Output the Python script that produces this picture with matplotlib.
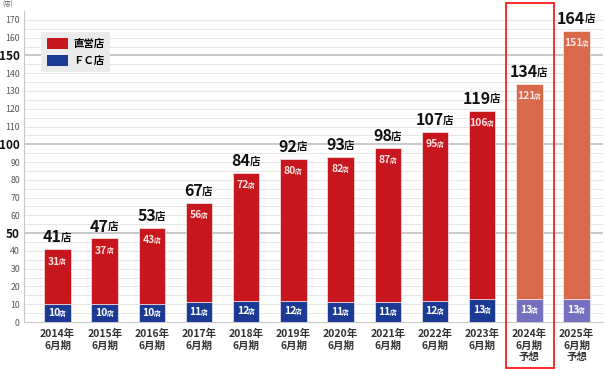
import matplotlib.pyplot as plt
from matplotlib.patches import Rectangle, Patch

plt.rcParams['font.family'] = ['Noto Sans CJK JP', 'DejaVu Sans']

years = ["2014", "2015", "2016", "2017", "2018", "2019",
         "2020", "2021", "2022", "2023", "2024", "2025"]
direct = [31, 37, 43, 56, 72, 80, 82, 87, 95, 106, 121, 151]
fc = [10, 10, 10, 11, 12, 12, 11, 11, 12, 13, 13, 13]
forecast = [False] * 10 + [True, True]

RED = "#C8161E"
NAVY = "#1B3A93"
ORANGE = "#D8694A"
LILAC = "#7670C0"

fig = plt.figure(figsize=(6.05, 3.69), dpi=100)
ax = fig.add_axes([24 / 605, 1 - 322 / 369, 579 / 605, 311 / 369])

x = list(range(len(years)))
width = 0.56
fc_colors = [LILAC if f else NAVY for f in forecast]
dir_colors = [ORANGE if f else RED for f in forecast]
ax.bar(x, fc, width, color=fc_colors, edgecolor="white", linewidth=0.4, zorder=3)
ax.bar(x, direct, width, bottom=fc, color=dir_colors, edgecolor="white",
       linewidth=0.4, zorder=3)

ax.set_xlim(-0.71, 11.56)
ax.set_ylim(0, 175)

# grid every 5, darker at 50/100/150
for v in range(5, 175, 5):
    if v in (50, 100, 150):
        ax.axhline(v, color="#C4C4C4", lw=1.3, zorder=1)
    else:
        ax.axhline(v, color="#E6E6E6", lw=0.7, zorder=1)

for s in ["top", "right"]:
    ax.spines[s].set_visible(False)
ax.spines["left"].set_color("#C8C8C8")
ax.spines["bottom"].set_color("#C8C8C8")
ax.tick_params(length=0)

ticks = list(range(0, 171, 10))
ax.set_yticks(ticks)
ax.set_yticklabels([str(t) for t in ticks])
for lab, t in zip(ax.get_yticklabels(), ticks):
    if t in (50, 100, 150):
        lab.set_fontsize(8.5)
        lab.set_fontweight("bold")
        lab.set_color("#111111")
    else:
        lab.set_fontsize(6.3)
        lab.set_color("#555555")
ax.tick_params(axis="y", pad=3)

ax.set_xticks(x)
xlabels = [f"{y}年\n6月期" + ("\n予想" if f else "") for y, f in zip(years, forecast)]
ax.set_xticklabels(xlabels, fontsize=7.5, fontweight="bold", color="#333333",
                   va="top", linespacing=1.2)
ax.tick_params(axis="x", pad=5)

fig.text(8 / 605, 1 - 5 / 369, "(店)", fontsize=4.5, color="#555555",
         ha="center", va="center")


def label(xc, y, num, big, small, color, dy):
    t = ax.annotate(num, xy=(xc, y), xytext=(-small / 2, dy),
                    textcoords="offset points", ha="center", va="center",
                    fontsize=big, fontweight="bold", color=color, zorder=5)
    ax.annotate("店", xy=(1, 0.15), xycoords=t, xytext=(-0.8, 0),
                textcoords="offset points", ha="left", va="bottom",
                fontsize=small, fontweight="bold", color=color, zorder=5)


for i in x:
    total = direct[i] + fc[i]
    label(i, total, str(total), 11.5, 7.5, "#111111", 8.5)
    label(i, total, str(direct[i]), 7.5, 4.8, "#FBE3E0", -9)
    label(i, fc[i] / 2, str(fc[i]), 7.5, 4.8, "white", 0)

handles = [Patch(facecolor=RED), Patch(facecolor=NAVY)]
leg = ax.legend(handles, ["直営店", "ＦＣ店"], loc="upper left",
                bbox_to_anchor=(0.02, 0.95), frameon=True, fancybox=False,
                prop={"size": 7.5, "weight": "bold"}, handlelength=2.0,
                handleheight=1.3, borderpad=0.6, labelspacing=0.5,
                handletextpad=0.5)
leg.get_frame().set_facecolor("#EBEBEB")
leg.get_frame().set_edgecolor("none")
leg.get_frame().set_alpha(1)

fig.add_artist(Rectangle((506 / 605, 1 - 368 / 369), 48 / 605, 365 / 369,
                         transform=fig.transFigure, fill=False,
                         edgecolor="#FF1A1A", lw=1.3, zorder=10))

fig.savefig("out.png", dpi=100)
